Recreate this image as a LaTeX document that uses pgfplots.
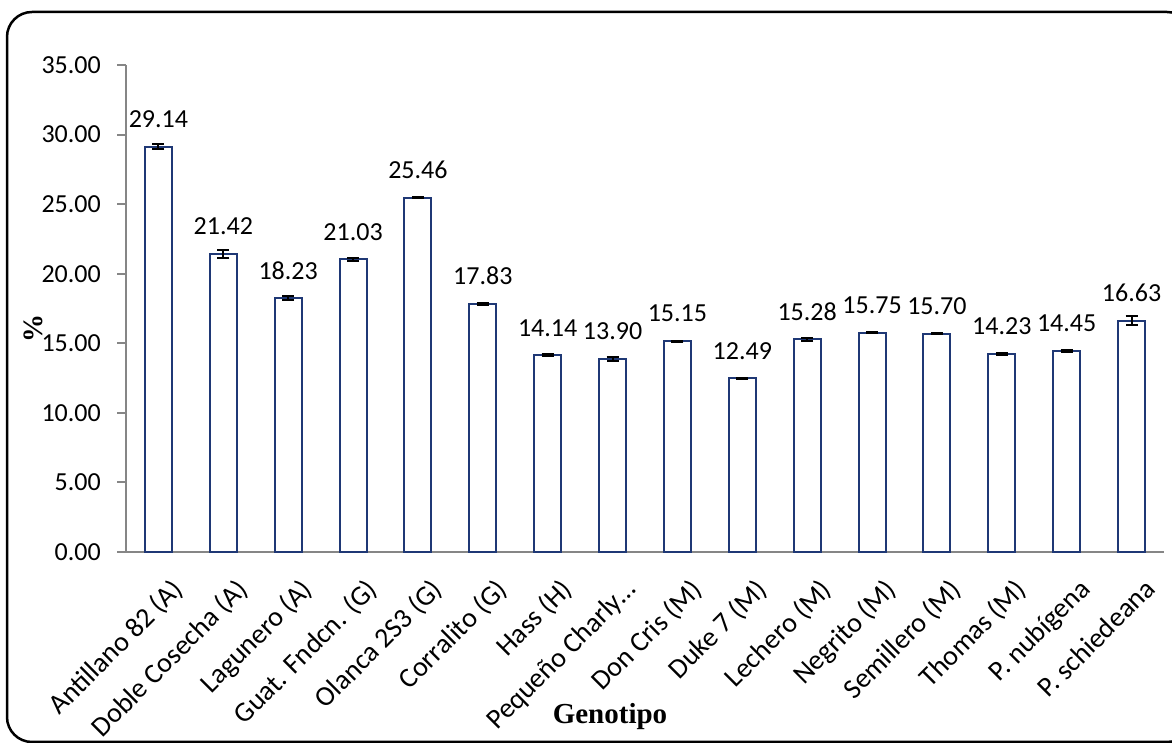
\documentclass[border=0pt]{standalone}
\usepackage{pgfplots}
\pgfplotsset{compat=1.18}
\usepackage{fontspec}
\setmainfont{Carlito}
\newfontfamily\serifbold{Liberation Serif}
\definecolor{barblue}{RGB}{31,56,117}
\definecolor{axgray}{RGB}{134,134,134}
\begin{document}
\begin{tikzpicture}[x=1pt,y=1pt]
\useasboundingbox (0,0) rectangle (1172,743);
\clip (0,0) rectangle (1172,743);
\draw[line width=2.5pt, rounded corners=25pt] (7,1) rectangle (1192,731);
\begin{axis}[
  at={(126pt,191pt)}, anchor=south west,
  scale only axis, width=1038pt, height=487pt,
  xmin=-0.5, xmax=15.5, ymin=0, ymax=35,
  axis x line*=bottom, axis y line*=left,
  axis line style={axgray, line width=2pt},
  every outer x axis line/.append style={-}, every outer y axis line/.append style={-},
  /pgf/number format/assume math mode=true,
  ytick={0,5,...,35},
  yticklabel style={/pgf/number format/fixed, /pgf/number format/zerofill, /pgf/number format/precision=2,
    font=\fontsize{26}{30}\selectfont, inner sep=0pt, xshift=-16pt},
  ytick style={axgray, line width=2pt},
  major tick length=9pt,
  tick align=outside,
  xtick={0,1,2,3,4,5,6,7,8,9,10,11,12,13,14,15},
  xticklabels={Antillano 82 (A),Doble Cosecha (A),Lagunero (A),Guat. Fndcn. (G),Olanca 2S3 (G),Corralito (G),Hass (H),{Pequeño Charly\ldots},Don Cris (M),Duke 7 (M),Lechero (M),Negrito (M),Semillero (M),Thomas (M),P. nubígena,P. schiedeana},
  x tick style={draw=none},
  xticklabel style={font=\fontsize{28}{30}\selectfont, rotate=45, anchor=north east, inner sep=0pt, xshift=-3pt, yshift=-19pt},
  minor xtick={-0.5,0.5,...,15.5},
  minor x tick style={axgray, line width=2pt},
  minor tick length=9pt,
  ybar, bar width=27pt,
  nodes near coords,
  nodes near coords style={font=\fontsize{26}{30}\selectfont, anchor=south, inner sep=0pt, yshift=18pt, /pgf/number format/fixed, /pgf/number format/zerofill, /pgf/number format/precision=2},
  clip=false,
]
\addplot[draw=barblue, fill=white, line width=2pt,
  error bars/.cd, y dir=both, y explicit,
  error bar style={black, line width=2pt}, error mark options={black, line width=2pt, mark size=6pt, rotate=90}]
  coordinates {
  (0,29.14) +- (0,0.17)
  (1,21.42) +- (0,0.31)
  (2,18.23) +- (0,0.15)
  (3,21.03) +- (0,0.12)
  (4,25.46) +- (0,0.05)
  (5,17.83) +- (0,0.06)
  (6,14.14) +- (0,0.08)
  (7,13.90) +- (0,0.15)
  (8,15.15) +- (0,0.03)
  (9,12.49) +- (0,0.05)
  (10,15.28) +- (0,0.12)
  (11,15.75) +- (0,0.04)
  (12,15.70) +- (0,0.06)
  (13,14.23) +- (0,0.10)
  (14,14.45) +- (0,0.07)
  (15,16.63) +- (0,0.30)
  };
\end{axis}
\node[font=\serifbold\bfseries\fontsize{29}{32}\selectfont, inner sep=0pt] at (610,26) {Genotipo};
\node[font=\serifbold\bfseries\fontsize{28}{32}\selectfont, inner sep=0pt, rotate=90] at (33,414) {\%};
\end{tikzpicture}
\end{document}
